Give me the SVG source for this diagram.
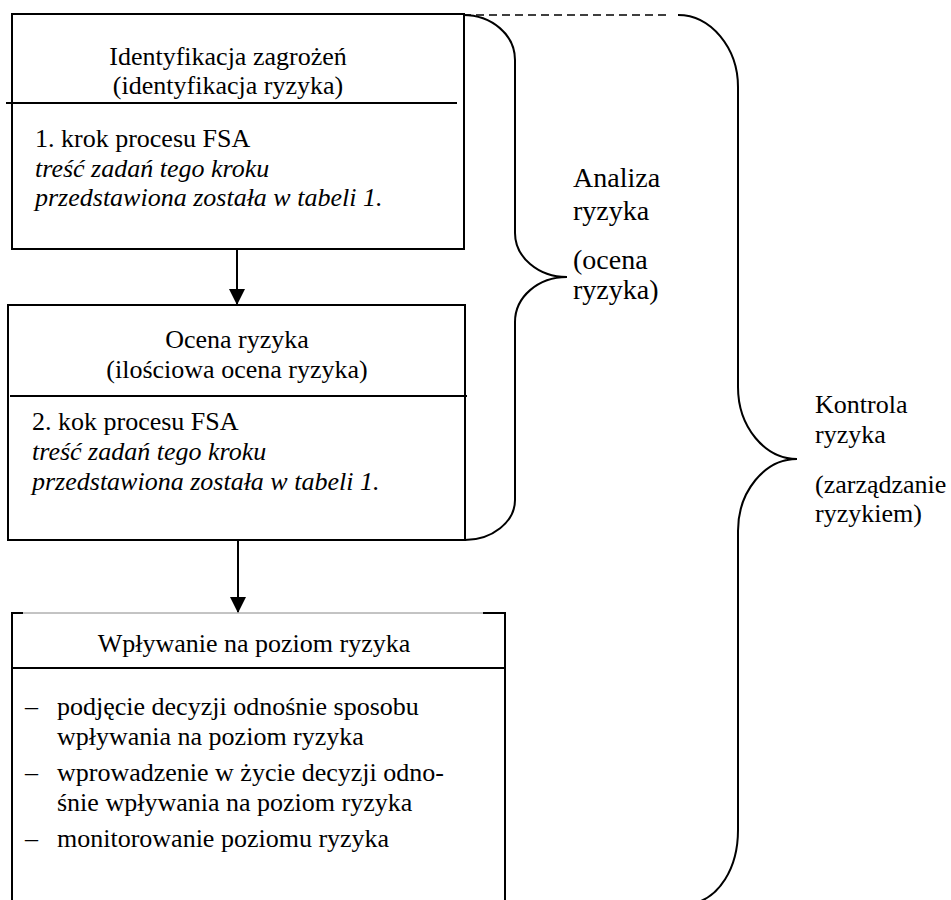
<svg xmlns="http://www.w3.org/2000/svg" width="951" height="900" viewBox="0 0 951 900">
<style>
text{font-size:26px;fill:#000}
.it{font-style:italic}
.c{text-anchor:middle}
.big{font-size:28px}
.ln{stroke:#000;stroke-width:2;fill:none}
</style>
<defs>
<marker id="ah" markerWidth="16" markerHeight="16" refX="15" refY="8" orient="auto" markerUnits="userSpaceOnUse">
<path d="M0,0 L16,8 L0,16 Z" fill="#000"/>
</marker>
</defs>
<rect width="951" height="900" fill="#fff"/>
<g font-family="'Liberation Serif', 'Times New Roman', 'DejaVu Serif', serif">
<g id="node1">
<rect x="12" y="14" width="452" height="235" class="ln"/>
<line x1="6" y1="103" x2="457" y2="103" class="ln"/>
<text x="228" y="65" class="c">Identyfikacja zagrożeń</text>
<text x="228" y="94" class="c">(identyfikacja ryzyka)</text>
<text x="35" y="147">1. krok procesu FSA</text>
<text x="35" y="177" class="it">treść zadań tego kroku</text>
<text x="35" y="206" class="it">przedstawiona została w tabeli 1.</text>
</g>
<g id="node2">
<rect x="8" y="305" width="457" height="235" class="ln"/>
<line x1="10" y1="396" x2="467" y2="396" class="ln"/>
<text x="237" y="348" class="c">Ocena ryzyka</text>
<text x="237" y="378" class="c">(ilościowa ocena ryzyka)</text>
<text x="32" y="430">2. kok procesu FSA</text>
<text x="32" y="460" class="it">treść zadań tego kroku</text>
<text x="32" y="490" class="it">przedstawiona została w tabeli 1.</text>
</g>
<g id="node3">
<line x1="12" y1="613" x2="505" y2="613" stroke="#888" stroke-width="1"/>
<line x1="12" y1="613" x2="23" y2="613" class="ln"/>
<line x1="483" y1="613" x2="505" y2="613" class="ln"/>
<line x1="12" y1="612" x2="12" y2="900" class="ln"/>
<line x1="505" y1="612" x2="505" y2="900" class="ln"/>
<line x1="12" y1="668" x2="506" y2="668" class="ln"/>
<text x="254" y="652" class="c">Wpływanie na poziom ryzyka</text>
<text x="25" y="715">–</text><text x="57" y="715">podjęcie decyzji odnośnie sposobu</text>
<text x="57" y="745">wpływania na poziom ryzyka</text>
<text x="25" y="781">–</text><text x="57" y="781">wprowadzenie w życie decyzji odno-</text>
<text x="57" y="811">śnie wpływania na poziom ryzyka</text>
<text x="25" y="847">–</text><text x="57" y="847">monitorowanie poziomu ryzyka</text>
</g>
<g id="brace-analiza">
<path d="M463,15 C492,15 515,35 515,60 L515,233 C515,257 538,277 567,277 C538,277 515,297 515,322 L515,500 C515,522 492,540 465,540" class="ln"/>
<text x="573" y="187" class="big">Analiza</text>
<text x="573" y="220" class="big">ryzyka</text>
<text x="573" y="269" class="big">(ocena</text>
<text x="573" y="299" class="big">ryzyka)</text>
</g>
<g id="brace-kontrola">
<path d="M678,15 C711,15 738,48 738,87 L738,387 C738,427 765,459 797,459 C765,459 738,491 738,531 L738,830 C738,870 718,897 695,903" class="ln"/>
<text x="815" y="413">Kontrola</text>
<text x="815" y="443">ryzyka</text>
<text x="815" y="493">(zarządzanie</text>
<text x="815" y="522">ryzykiem)</text>
</g>
</g>
<g id="connectors">
<line x1="463" y1="15" x2="670" y2="15" stroke="#000" stroke-width="1.5" stroke-dasharray="8,5"/>
<line x1="237" y1="249" x2="237" y2="304" class="ln" marker-end="url(#ah)"/>
<line x1="238" y1="540" x2="238" y2="612" class="ln" marker-end="url(#ah)"/>
</g>
</svg>
